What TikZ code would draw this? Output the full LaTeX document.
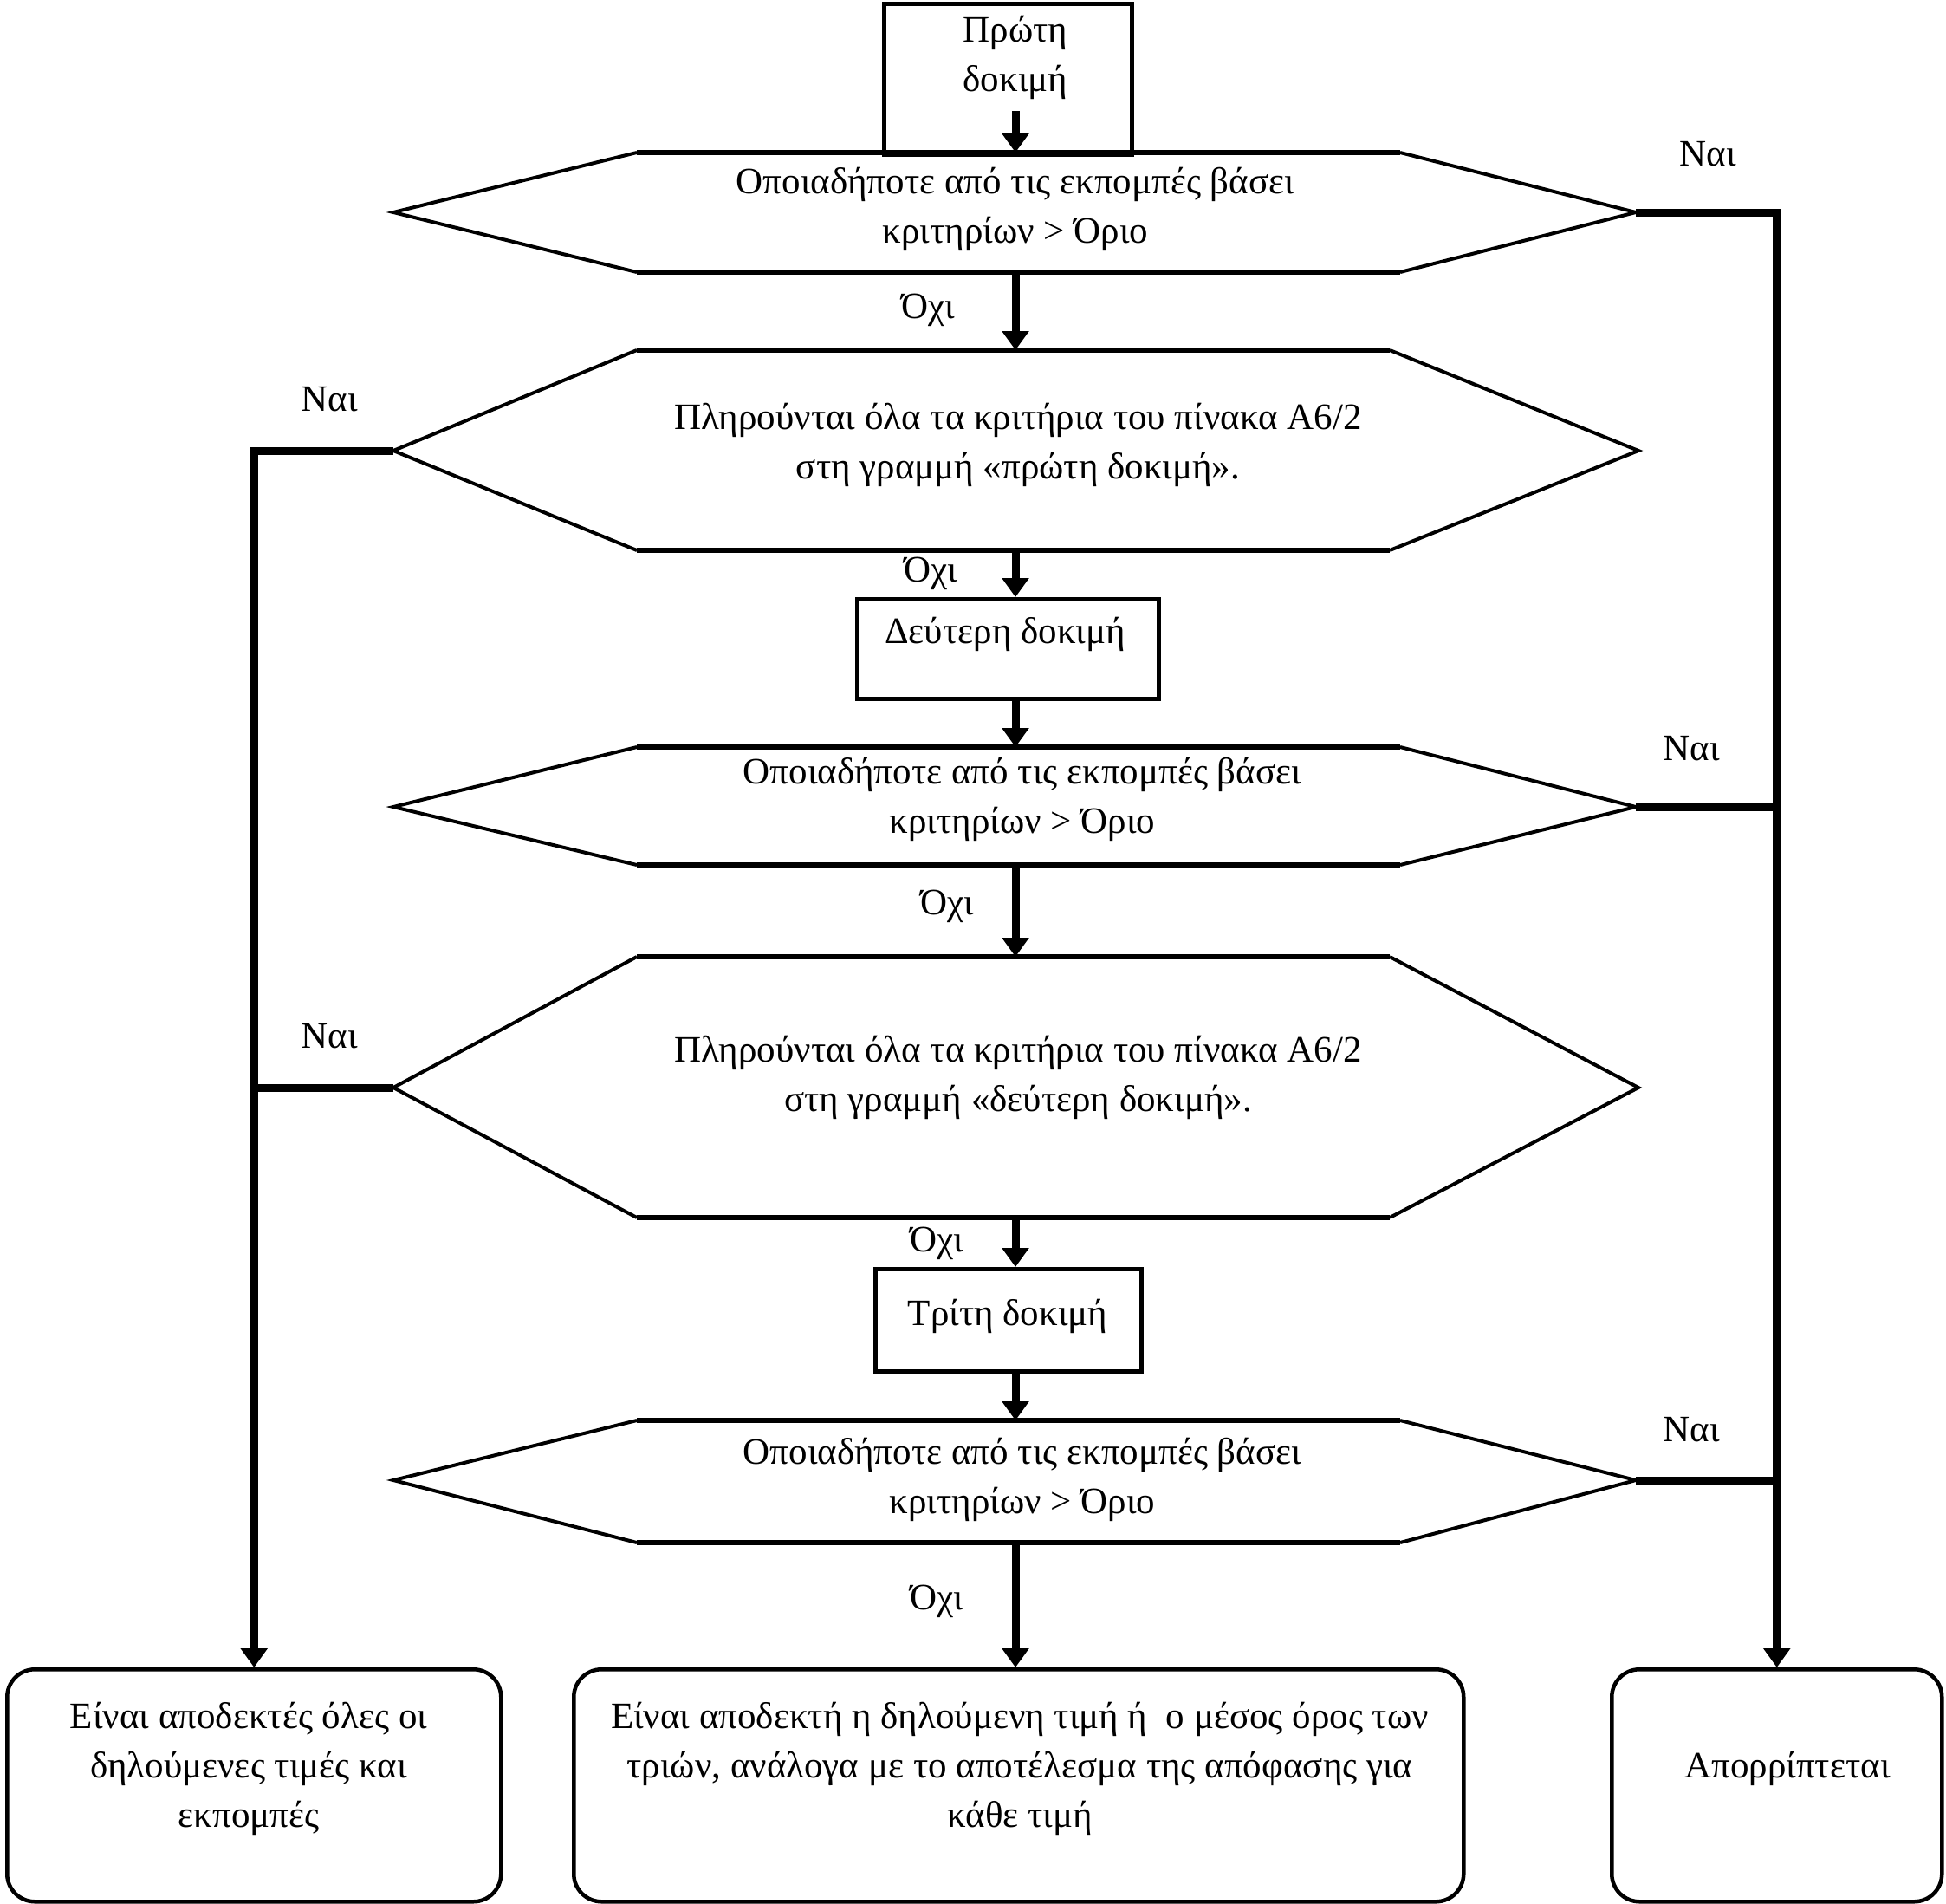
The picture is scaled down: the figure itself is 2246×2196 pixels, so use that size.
\documentclass[tikz,border=0pt]{standalone}
\usepackage{fontspec}
\setmainfont{Liberation Serif}
\usetikzlibrary{arrows.meta}
\tikzset{
  conn/.style={line width=9pt, -{Triangle[width=30pt,length=22pt]}},
  link/.style={line width=9pt},
  flat/.style={line width=6pt},
  diag/.style={line width=4pt},
  plainbox/.style={draw, line width=4.5pt, inner sep=0pt, anchor=north west},
  endbox/.style={draw, line width=4.5pt, rounded corners=32pt, inner sep=0pt, anchor=north west},
  txt/.style={font=\fontsize{43}{57}\selectfont, align=center, inner sep=0pt},
  lbl/.style={font=\fontsize{43}{57}\selectfont, inner sep=0pt}
}
\newcommand\myhex[6]{% name, top, bottom, tipy, flatright, tipright
  \coordinate (#1tl) at (735,#2);
  \coordinate (#1tr) at (#5,#2);
  \coordinate (#1bl) at (735,#3);
  \coordinate (#1br) at (#5,#3);
  \coordinate (#1l) at (454,#4);
  \coordinate (#1r) at (#6,#4);
  \coordinate (#1top) at (1172,#2);
  \coordinate (#1bot) at (1172,#3);
  \draw[flat] (#1tl) -- (#1tr);
  \draw[flat] (#1bl) -- (#1br);
  \draw[diag] (#1tr) -- (#1r) -- (#1br);
  \draw[diag] (#1tl) -- (#1l) -- (#1bl);
}
\begin{document}
\begin{tikzpicture}[x=1pt,y=-1pt]
\useasboundingbox (0,0) rectangle (2246,2196);

% first test box
\node[plainbox, minimum width=286pt, minimum height=174pt] (b1) at (1018,2) {};
\node[txt] (t1) at (1172,66) {Πρώτη\\δοκιμή};
\coordinate (a1) at (1172,128);

% decisions
\myhex{h1}{176}{314}{245}{1616}{1888}
\node[txt] (d1) at (1172,241) {Οποιαδήποτε από τις εκπομπές βάσει\\κριτηρίων > Όριο};

\myhex{h2}{404}{635}{520}{1604}{1891}
\node[txt] (d2) at (1175,513) {Πληρούνται όλα τα κριτήρια του πίνακα A6/2\\στη γραμμή «πρώτη δοκιμή».};

\node[plainbox, minimum width=348pt, minimum height=115pt] (b2) at (987,689) {};
\node[txt] (t2) at (1160,732) {Δεύτερη δοκιμή};

\myhex{h3}{862}{998}{931}{1616}{1888}
\node[txt] (d3) at (1180,922) {Οποιαδήποτε από τις εκπομπές βάσει\\κριτηρίων > Όριο};

\myhex{h4}{1104}{1405}{1255}{1604}{1891}
\node[txt] (d4) at (1175,1243) {Πληρούνται όλα τα κριτήρια του πίνακα A6/2\\στη γραμμή «δεύτερη δοκιμή».};

\node[plainbox, minimum width=307pt, minimum height=118pt] (b3) at (1008,1462) {};
\node[txt] (t3) at (1163,1519) {Τρίτη δοκιμή};

\myhex{h5}{1639}{1780}{1708}{1616}{1888}
\node[txt] (d5) at (1180,1707) {Οποιαδήποτε από τις εκπομπές βάσει\\κριτηρίων > Όριο};

% end boxes
\node[endbox, minimum width=570pt, minimum height=268pt] (acc) at (6,1924) {};
\node[txt] (tacc) at (287,2041) {Είναι αποδεκτές όλες οι\\δηλούμενες τιμές και\\εκπομπές};
\node[endbox, minimum width=1027pt, minimum height=268pt] (mid) at (660,1924) {};
\node[txt] (tmid) at (1177,2041) {Είναι αποδεκτή η δηλούμενη τιμή ή\ \ ο μέσος όρος των\\τριών, ανάλογα με το αποτέλεσμα της απόφασης για\\κάθε τιμή};
\node[endbox, minimum width=381pt, minimum height=268pt] (rej) at (1858,1924) {};
\node[txt] (trej) at (2063,2041) {Απορρίπτεται};

% main column
\draw[conn] (a1) -- (h1top);
\draw[conn] (h1bot) -- (h2top);
\draw[conn] (h2bot) -- (h2bot |- b2.north);
\draw[conn] (h3top |- b2.south) -- (h3top);
\draw[conn] (h3bot) -- (h4top);
\draw[conn] (h4bot) -- (h4bot |- b3.north);
\draw[conn] (h5top |- b3.south) -- (h5top);
\draw[conn] (h5bot) -- (h5bot |- mid.north);

% yes branches
\draw[conn] (h1r) -| (rej.north);
\draw[link] (h3r) -- (h3r -| rej.north);
\draw[link] (h5r) -- (h5r -| rej.north);
\draw[conn] (h2l) -| (acc.north);
\draw[link] (h4l) -- (h4l -| acc.north);

% labels
\node[lbl] (y1) at (1971,178) {Ναι};
\node[lbl] (y2) at (380,461) {Ναι};
\node[lbl] (y3) at (1952,864) {Ναι};
\node[lbl] (y4) at (380,1196) {Ναι};
\node[lbl] (y5) at (1952,1650) {Ναι};
\node[lbl] (n1) at (1071,358) {Όχι};
\node[lbl] (n2) at (1074,662) {Όχι};
\node[lbl] (n3) at (1093,1046) {Όχι};
\node[lbl] (n4) at (1081,1435) {Όχι};
\node[lbl] (n5) at (1081,1848) {Όχι};
\end{tikzpicture}
\end{document}
